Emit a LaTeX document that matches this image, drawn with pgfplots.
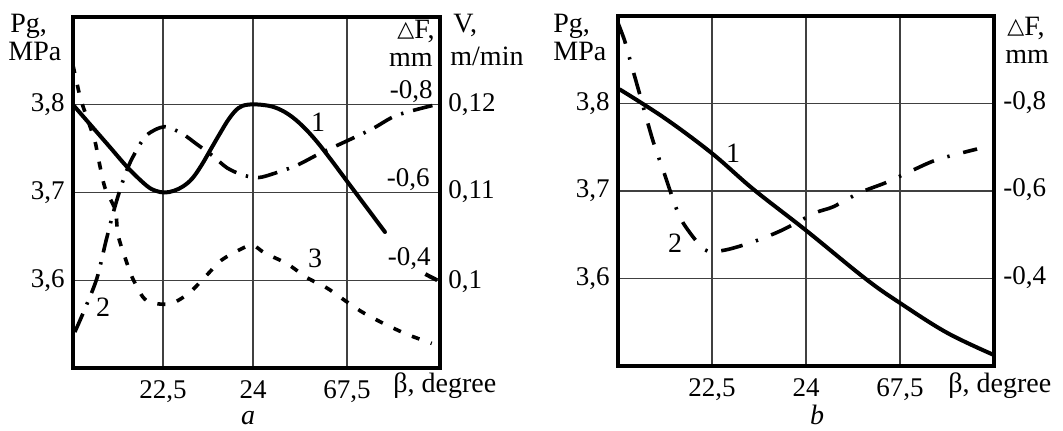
\documentclass[border=0pt]{standalone}
\usepackage{fontspec}
\setmainfont{Liberation Serif}
\newfontfamily\dejavu{DejaVu Sans}
\usepackage{pgfplots}
\pgfplotsset{compat=1.18}
\newcommand{\tri}{\raisebox{0.6pt}{\dejavu\fontsize{11}{11}\selectfont △}}
\begin{document}
\begin{tikzpicture}
\path[use as bounding box] (0,0) rectangle (531.5pt,215pt);
\pgfplotsset{
  panel/.style={scale only axis, anchor=south west,
    xmin=0, xmax=4, ymin=3.5, ymax=3.9,
    grid=major, major grid style={line width=0.6pt, black!75},
    axis line style={line width=2pt}, major tick length=0pt,
    ytick={3.6,3.7,3.8}, yticklabels={{3,6},{3,7},{3,8}},
    tick label style={font=\fontsize{13.5}{15}\selectfont},
    yticklabel style={anchor=east, inner sep=0pt, xshift=-4pt},
    xticklabel style={anchor=north, inner sep=0pt, yshift=-6pt},
  },
  solidc/.style={line width=2pt, black, line join=round, line cap=round, smooth, tension=0.6},
  dashdotc/.style={line width=1.8pt, black, dash pattern=on 10pt off 5pt on 1.2pt off 5pt, smooth, tension=0.5},
  dashdotb/.style={line width=1.8pt, black, dash pattern=on 11pt off 7pt on 1.2pt off 7pt, smooth, tension=0.5},
  dashedc/.style={line width=1.8pt, black, dash pattern=on 4pt off 6pt, smooth, tension=0.5},
}
% ---------- panel a ----------
\begin{axis}[panel, at={(36.5pt,31pt)}, width=183.5pt, height=175.5pt,
  xtick={0.981,1.962,2.986}, xticklabels={{22,5},{24},{67,5}}]
\addplot[solidc] coordinates {(0,3.800) (0.2,3.776) (0.4,3.752) (0.6,3.728) (0.8,3.708) (0.9,3.702) (1.0,3.700) (1.1,3.702) (1.2,3.707) (1.3,3.716) (1.4,3.731) (1.5,3.749) (1.6,3.767) (1.7,3.784) (1.8,3.796) (1.9,3.800) (2.05,3.800) (2.2,3.797) (2.35,3.789) (2.5,3.776) (2.65,3.759) (2.8,3.739) (2.95,3.718) (3.1,3.697) (3.25,3.676) (3.4,3.655)};
\addplot[line width=2pt, black] coordinates {(3.84,3.607) (3.97,3.600)};
\addplot[dashdotc] coordinates {(0.02,3.541) (0.12,3.565) (0.26,3.602) (0.36,3.645) (0.46,3.685) (0.56,3.718) (0.65,3.740) (0.8,3.765) (1.0,3.775) (1.19,3.767) (1.35,3.755) (1.52,3.742) (1.68,3.728) (1.85,3.720) (2.02,3.717) (2.2,3.722) (2.44,3.731) (2.7,3.745) (2.99,3.759) (3.27,3.773) (3.53,3.788) (3.95,3.800)};
\addplot[dashedc] coordinates {(0.0,3.845) (0.08,3.808) (0.16,3.783) (0.24,3.758) (0.29,3.732) (0.35,3.705) (0.46,3.680) (0.49,3.652) (0.57,3.625) (0.66,3.600) (0.8,3.577) (1.05,3.573) (1.26,3.585) (1.45,3.605) (1.62,3.623) (1.84,3.636) (1.96,3.640) (2.09,3.631) (2.33,3.619) (2.55,3.603) (2.77,3.591) (2.99,3.575) (3.18,3.562) (3.42,3.549) (3.65,3.538) (3.91,3.528)};
\end{axis}
% ---------- panel b ----------
\begin{axis}[panel, at={(309pt,32pt)}, width=188pt, height=175pt,
  xtick={1,2,3}, xticklabels={{22,5},{24},{67,5}}]
\addplot[solidc] coordinates {(0.02,3.816) (0.5,3.783) (1.0,3.743) (1.44,3.702) (2.0,3.655) (2.63,3.600) (3.0,3.572) (3.5,3.538) (3.99,3.513)};
\addplot[dashdotb] coordinates {(0.0,3.892) (0.07,3.872) (0.13,3.849) (0.23,3.811) (0.37,3.758) (0.48,3.724) (0.61,3.683) (0.69,3.664) (0.84,3.642) (0.96,3.631) (1.16,3.633) (1.44,3.642) (1.74,3.655) (2.1,3.675) (2.29,3.682) (2.57,3.698) (2.86,3.710) (3.14,3.724) (3.4,3.736) (3.82,3.748)};
\end{axis}
% ---------- texts ----------
\begin{scope}[every node/.style={font=\fontsize{14}{16}\selectfont, inner sep=0pt}]
\node[anchor=base west] at (5pt,199pt) {Pg,};
\node[anchor=base west] at (4pt,185pt) {MPa};
\node[anchor=base east] at (217.5pt,196pt) {\tri F,};
\node[anchor=base east] at (216.5pt,182pt) {mm};
\node[anchor=base west] at (226.5pt,199pt) {V,};
\node[anchor=base west] at (225pt,182.5pt) {m/min};
\node[anchor=base west] at (196.5pt,19pt) {β, degree};
\node[anchor=base west] at (474pt,19pt) {β, degree};
\node at (124pt,6pt) {\itshape a};
\node at (408.5pt,7.5pt) {\itshape b};
\node at (159pt,154pt) {1};
\node at (51.5pt,61.5pt) {2};
\node at (157.5pt,86pt) {3};
\node at (366.5pt,138.5pt) {1};
\node at (337.5pt,93.5pt) {2};
\node[anchor=base west] at (276.5pt,199pt) {Pg,};
\node[anchor=base west] at (276.5pt,185pt) {MPa};
\node[anchor=base west] at (503.5pt,197.5pt) {\tri F,};
\node[anchor=base west] at (502.5pt,183.5pt) {mm};
\end{scope}
\begin{scope}[every node/.style={font=\fontsize{13.5}{15}\selectfont, inner sep=0pt}]
\node[anchor=east] at (216.5pt,169pt) {-0,8};
\node[anchor=east] at (215pt,125pt) {-0,6};
\node[anchor=east] at (215.5pt,85.5pt) {-0,4};
\node[anchor=west] at (224pt,162.5pt) {0,12};
\node[anchor=west] at (224pt,119pt) {0,11};
\node[anchor=west] at (224pt,74pt) {0,1};
\node[anchor=west] at (501.5pt,163.5pt) {-0,8};
\node[anchor=west] at (501.5pt,120pt) {-0,6};
\node[anchor=west] at (501.5pt,76pt) {-0,4};
\end{scope}
\end{tikzpicture}
\end{document}
